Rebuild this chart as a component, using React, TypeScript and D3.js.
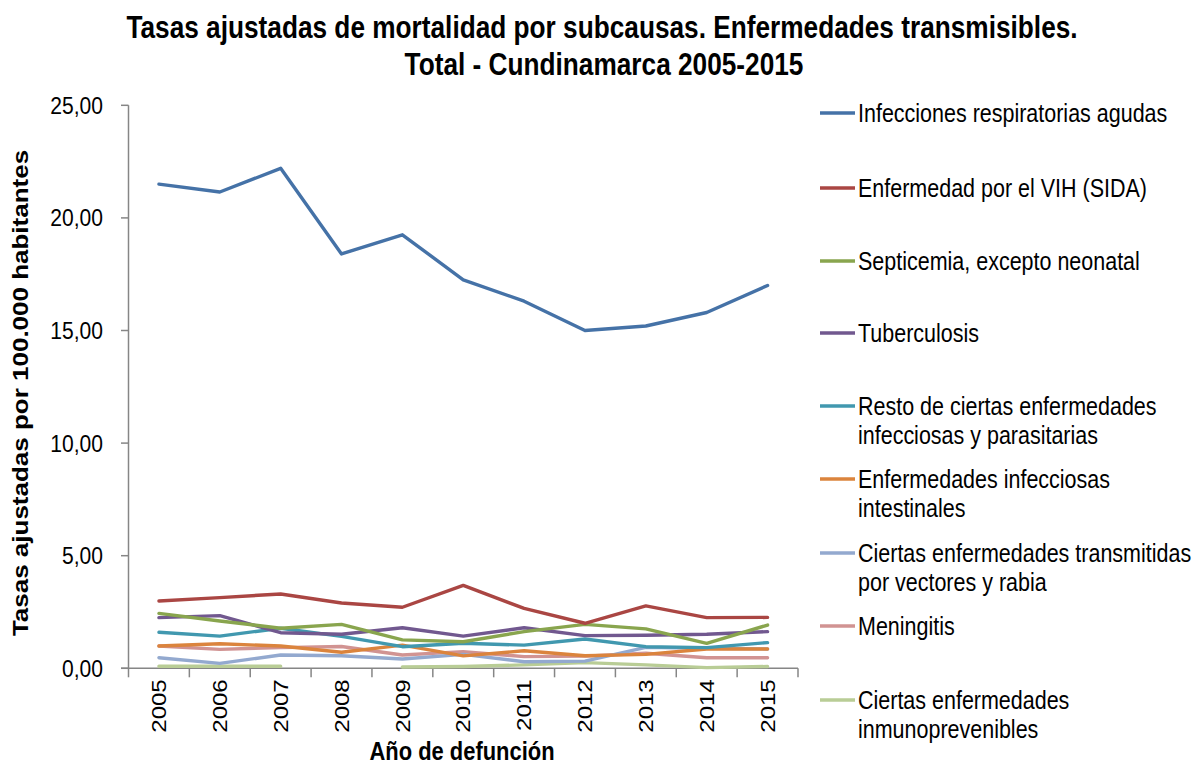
import { useRef, useEffect } from 'react'
import * as d3 from 'd3'

const years = ['2005', '2006', '2007', '2008', '2009', '2010', '2011', '2012', '2013', '2014', '2015']

const infeccionesRespiratorias = [21.5, 21.15, 22.2, 18.4, 19.25, 17.25, 16.3, 15.0, 15.2, 15.8, 17.0]
const vihSida = [2.99, 3.14, 3.3, 2.9, 2.71, 3.68, 2.66, 2.0, 2.77, 2.25, 2.26]
const septicemia = [2.44, 2.1, 1.78, 1.95, 1.26, 1.18, 1.63, 1.95, 1.75, 1.11, 1.92]
const tuberculosis = [2.25, 2.34, 1.58, 1.51, 1.8, 1.43, 1.8, 1.45, 1.47, 1.51, 1.63]
const restoInfecciosas = [1.6, 1.43, 1.78, 1.42, 0.96, 1.11, 1.03, 1.3, 0.96, 0.92, 1.14]
const intestinales = [0.99, 1.09, 0.99, 0.71, 1.03, 0.55, 0.78, 0.56, 0.62, 0.86, 0.86]
const vectores = [0.47, 0.22, 0.59, 0.56, 0.41, 0.62, 0.29, 0.32, 0.93, 0.89, 0.86]
const meningitis = [0.99, 0.84, 0.92, 0.97, 0.59, 0.74, 0.52, 0.54, 0.67, 0.47, 0.47]
const inmunoprevenibles = [0.09, 0.09, 0.09, null, 0.06, 0.08, 0.15, 0.25, 0.15, 0.03, 0.08]

const yTicks = [0, 5, 10, 15, 20, 25]

type Series = { name: string[]; color: string; values: (number | null)[] }

const series: Series[] = [
  { name: ['Infecciones respiratorias agudas'], color: '#4572A7', values: infeccionesRespiratorias },
  { name: ['Enfermedad por el VIH (SIDA)'], color: '#AA4643', values: vihSida },
  { name: ['Septicemia, excepto neonatal'], color: '#89A54E', values: septicemia },
  { name: ['Tuberculosis'], color: '#71588F', values: tuberculosis },
  { name: ['Resto de ciertas enfermedades', 'infecciosas y parasitarias'], color: '#4198AF', values: restoInfecciosas },
  { name: ['Enfermedades infecciosas', 'intestinales'], color: '#DB843D', values: intestinales },
  { name: ['Ciertas enfermedades transmitidas', 'por vectores y rabia'], color: '#93A9CF', values: vectores },
  { name: ['Meningitis'], color: '#D19392', values: meningitis },
  { name: ['Ciertas enfermedades', 'inmunoprevenibles'], color: '#B9CD96', values: inmunoprevenibles },
]

// legend first-line positions
const legendY = [113, 188, 261, 333, 406, 479, 553, 626, 700]

const W = 1198
const H = 765
const FONT = '"Liberation Sans", Arial, sans-serif'
const K = 0.86 // horizontal squeeze, the original text looks condensed

type Sel = d3.Selection<SVGSVGElement, unknown, null, undefined>

function label(svg: Sel, txt: string, x: number, y: number, opts: { size: number; bold?: boolean; anchor?: string; rotate?: boolean; dy?: string }) {
  const tf = `translate(${x},${y}) scale(${K},1)` + (opts.rotate ? ' rotate(-90)' : '')
  return svg.append('text')
    .attr('transform', tf)
    .attr('dy', opts.dy ?? '0')
    .attr('text-anchor', opts.anchor ?? 'start')
    .attr('font-family', FONT)
    .attr('font-weight', opts.bold ? 'bold' : 'normal')
    .attr('font-size', opts.size)
    .attr('fill', '#000')
    .text(txt)
}

export default function App() {
  const svgRef = useRef<SVGSVGElement>(null)

  useEffect(() => {
    if (!svgRef.current) return
    const svg = d3.select(svgRef.current) as Sel
    svg.selectAll('*').remove()

    const x = d3.scaleBand().domain(years).range([128.5, 798])
    const y = d3.scaleLinear().domain([0, 25]).range([668.3, 105.3])
    const cx = (yr: string) => (x(yr) ?? 0) + x.bandwidth() / 2

    svg.append('rect').attr('width', W).attr('height', H).attr('fill', '#fff')

    // title
    label(svg, 'Tasas ajustadas de mortalidad por subcausas. Enfermedades transmisibles.', 602, 38, { size: 30.5, bold: true, anchor: 'middle' })
    label(svg, 'Total - Cundinamarca 2005-2015', 604, 75, { size: 30.5, bold: true, anchor: 'middle' })

    const axisColor = '#868686'

    // y axis
    svg.append('line')
      .attr('x1', 128.5).attr('x2', 128.5)
      .attr('y1', y(25)).attr('y2', y(0))
      .attr('stroke', axisColor).attr('stroke-width', 1.5)
    yTicks.forEach((t) => {
      svg.append('line')
        .attr('x1', 121).attr('x2', 128.5)
        .attr('y1', y(t)).attr('y2', y(t))
        .attr('stroke', axisColor).attr('stroke-width', 1.5)
      label(svg, d3.format('.2f')(t).replace('.', ','), 103, y(t), { size: 24.5, anchor: 'end', dy: '0.35em' })
    })

    // x axis
    svg.append('line')
      .attr('x1', 121).attr('x2', 798)
      .attr('y1', y(0)).attr('y2', y(0))
      .attr('stroke', axisColor).attr('stroke-width', 1.5)
    const edges = [...years.map((yr) => x(yr) ?? 0), 798]
    edges.forEach((ex) => {
      svg.append('line')
        .attr('x1', ex).attr('x2', ex)
        .attr('y1', y(0)).attr('y2', y(0) + 9)
        .attr('stroke', axisColor).attr('stroke-width', 1.5)
    })
    years.forEach((yr) => {
      label(svg, yr, cx(yr), y(0) + 11, { size: 24, anchor: 'end', rotate: true, dy: '0.35em' })
    })

    // axis titles
    label(svg, 'Año de defunción', 462, 760, { size: 25.5, bold: true, anchor: 'middle' })
    label(svg, 'Tasas ajustadas por 100.000 habitantes', 28, 393, { size: 26, bold: true, anchor: 'middle', rotate: true })

    // lines
    const line = d3.line<number | null>()
      .defined((d) => d != null)
      .x((_, i) => cx(years[i]))
      .y((d) => y(d as number))

    series.slice().reverse().forEach((s) => {
      svg.append('path')
        .datum(s.values)
        .attr('fill', 'none')
        .attr('stroke', s.color)
        .attr('stroke-width', 3.4)
        .attr('stroke-linejoin', 'round')
        .attr('stroke-linecap', 'round')
        .attr('d', line)
    })

    // legend
    series.forEach((s, i) => {
      const ly = legendY[i]
      svg.append('line')
        .attr('x1', 820).attr('x2', 855)
        .attr('y1', ly).attr('y2', ly)
        .attr('stroke', s.color).attr('stroke-width', 3.4)
      s.name.forEach((ln, j) => {
        label(svg, ln, 858, ly + j * 29, { size: 25, dy: '0.35em' })
      })
    })
  }, [])

  return (
    <svg
      ref={svgRef}
      width={W}
      height={H}
      style={{ position: 'absolute', left: 0, top: 0, display: 'block' }}
    />
  )
}
